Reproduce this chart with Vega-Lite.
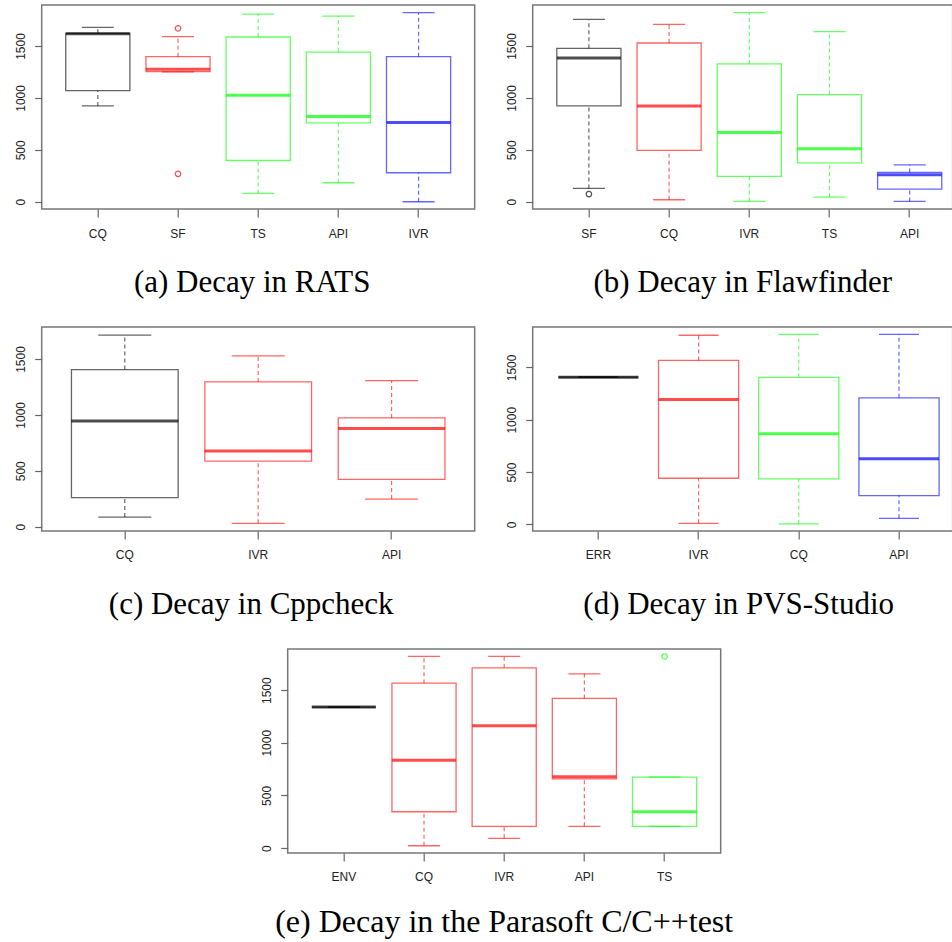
{
  "$schema": "https://vega.github.io/schema/vega-lite/v6.json",
  "padding": {"left": 10.7, "top": 4, "right": 0, "bottom": 0},
  "background": "white",
  "datasets": {
    "a": [
      {"cat": "CQ", "grp": "k", "lo": 923, "q1": 1071, "med": 1618, "q3": 1622, "hi": 1679},
      {"cat": "SF", "grp": "r", "lo": 1250, "q1": 1253, "med": 1276, "q3": 1397, "hi": 1590},
      {"cat": "TS", "grp": "g", "lo": 80, "q1": 397, "med": 1026, "q3": 1587, "hi": 1808},
      {"cat": "API", "grp": "g", "lo": 183, "q1": 760, "med": 821, "q3": 1442, "hi": 1788},
      {"cat": "IVR", "grp": "b", "lo": 0, "q1": 279, "med": 763, "q3": 1397, "hi": 1821}
    ],
    "a_out": [
      {"cat": "SF", "grp": "r", "val": 1670},
      {"cat": "SF", "grp": "r", "val": 269}
    ],
    "b": [
      {"cat": "SF", "grp": "k", "lo": 128, "q1": 923, "med": 1385, "q3": 1478, "hi": 1756},
      {"cat": "CQ", "grp": "r", "lo": 19, "q1": 494, "med": 923, "q3": 1529, "hi": 1708},
      {"cat": "IVR", "grp": "g", "lo": 3, "q1": 244, "med": 667, "q3": 1327, "hi": 1821},
      {"cat": "TS", "grp": "g", "lo": 45, "q1": 375, "med": 510, "q3": 1032, "hi": 1638},
      {"cat": "API", "grp": "b", "lo": 3, "q1": 122, "med": 260, "q3": 282, "hi": 356}
    ],
    "b_out": [
      {"cat": "SF", "grp": "k", "val": 74}
    ],
    "c": [
      {"cat": "CQ", "grp": "k", "lo": 86, "q1": 259, "med": 946, "q3": 1405, "hi": 1714},
      {"cat": "IVR", "grp": "r", "lo": 30, "q1": 586, "med": 676, "q3": 1295, "hi": 1527},
      {"cat": "API", "grp": "r", "lo": 247, "q1": 423, "med": 878, "q3": 973, "hi": 1307}
    ],
    "d": [
      {"cat": "ERR", "grp": "k", "lo": 1407, "q1": 1407, "med": 1407, "q3": 1407, "hi": 1407},
      {"cat": "IVR", "grp": "r", "lo": 10, "q1": 441, "med": 1193, "q3": 1567, "hi": 1807},
      {"cat": "CQ", "grp": "g", "lo": 6, "q1": 435, "med": 867, "q3": 1404, "hi": 1816},
      {"cat": "API", "grp": "b", "lo": 58, "q1": 275, "med": 627, "q3": 1209, "hi": 1816}
    ],
    "e": [
      {"cat": "ENV", "grp": "k", "lo": 1339, "q1": 1339, "med": 1339, "q3": 1339, "hi": 1339},
      {"cat": "CQ", "grp": "r", "lo": 22, "q1": 345, "med": 835, "q3": 1566, "hi": 1820},
      {"cat": "IVR", "grp": "r", "lo": 92, "q1": 206, "med": 1161, "q3": 1712, "hi": 1820},
      {"cat": "API", "grp": "r", "lo": 206, "q1": 658, "med": 677, "q3": 1421, "hi": 1655},
      {"cat": "TS", "grp": "g", "lo": 206, "q1": 206, "med": 345, "q3": 674, "hi": 674}
    ],
    "e_out": [
      {"cat": "TS", "grp": "g", "val": 1820}
    ]
  },
  "vconcat": [
    {
      "hconcat": [
        {
          "width": 433, "height": 204,
          "data": {"name": "a"},
          "title": {"text": "(a) Decay in RATS", "dx": -6},
          "encoding": {"x": {"field": "cat", "type": "nominal", "title": null, "scale": {"domain": ["CQ", "SF", "TS", "API", "IVR"], "paddingInner": 0, "paddingOuter": 0.2}}},
          "layer": [
            {"mark": {"type": "rule", "strokeDash": [4, 3], "strokeWidth": 1.2, "opacity": 0.6}, "encoding": {"y": {"field": "q3", "type": "quantitative", "title": null, "scale": {"domain": [-70, 1895], "nice": false, "zero": false}, "axis": {"values": [0, 500, 1000, 1500], "format": "d"}}, "y2": {"field": "hi"}, "color": {"field": "grp", "type": "nominal", "legend": null, "scale": {"domain": ["k", "r", "g", "b"], "range": ["#000000", "#ff0000", "#00ff00", "#0000ff"]}}}},
            {"mark": {"type": "rule", "strokeDash": [4, 3], "strokeWidth": 1.2, "opacity": 0.6}, "encoding": {"y": {"field": "lo", "type": "quantitative", "title": null, "scale": {"domain": [-70, 1895], "nice": false, "zero": false}}, "y2": {"field": "q1"}, "color": {"field": "grp", "type": "nominal", "legend": null}}},
            {"mark": {"type": "tick", "size": 32, "thickness": 1.3, "opacity": 0.6}, "encoding": {"y": {"field": "hi", "type": "quantitative", "title": null, "scale": {"domain": [-70, 1895], "nice": false, "zero": false}}, "color": {"field": "grp", "type": "nominal", "legend": null}}},
            {"mark": {"type": "tick", "size": 32, "thickness": 1.3, "opacity": 0.6}, "encoding": {"y": {"field": "lo", "type": "quantitative", "title": null, "scale": {"domain": [-70, 1895], "nice": false, "zero": false}}, "color": {"field": "grp", "type": "nominal", "legend": null}}},
            {"mark": {"type": "bar", "filled": false, "strokeWidth": 1.3, "opacity": 0.6, "width": {"band": 0.8}}, "encoding": {"y": {"field": "q1", "type": "quantitative", "title": null, "scale": {"domain": [-70, 1895], "nice": false, "zero": false}}, "y2": {"field": "q3"}, "color": {"field": "grp", "type": "nominal", "legend": null}}},
            {"mark": {"type": "tick", "size": 64, "thickness": 3}, "encoding": {"y": {"field": "med", "type": "quantitative", "title": null, "scale": {"domain": [-70, 1895], "nice": false, "zero": false}}, "color": {"field": "grp", "type": "nominal", "legend": null}}},
            {"data": {"name": "a_out"}, "mark": {"type": "point", "filled": false, "size": 30, "strokeWidth": 1.2, "opacity": 0.7}, "encoding": {"y": {"field": "val", "type": "quantitative", "title": null, "scale": {"domain": [-70, 1895], "nice": false, "zero": false}}, "color": {"field": "grp", "type": "nominal", "legend": null}}}
          ]
        },
        {
          "width": 420, "height": 204,
          "data": {"name": "b"},
          "title": {"text": "(b) Decay in Flawfinder"},
          "encoding": {"x": {"field": "cat", "type": "nominal", "title": null, "scale": {"domain": ["SF", "CQ", "IVR", "TS", "API"], "paddingInner": 0, "paddingOuter": 0.1185, "align": 0.847}}},
          "layer": [
            {"mark": {"type": "rule", "strokeDash": [4, 3], "strokeWidth": 1.2, "opacity": 0.6}, "encoding": {"y": {"field": "q3", "type": "quantitative", "title": null, "scale": {"domain": [-70, 1895], "nice": false, "zero": false}, "axis": {"values": [0, 500, 1000, 1500], "format": "d"}}, "y2": {"field": "hi"}, "color": {"field": "grp", "type": "nominal", "legend": null, "scale": {"domain": ["k", "r", "g", "b"], "range": ["#000000", "#ff0000", "#00ff00", "#0000ff"]}}}},
            {"mark": {"type": "rule", "strokeDash": [4, 3], "strokeWidth": 1.2, "opacity": 0.6}, "encoding": {"y": {"field": "lo", "type": "quantitative", "title": null, "scale": {"domain": [-70, 1895], "nice": false, "zero": false}}, "y2": {"field": "q1"}, "color": {"field": "grp", "type": "nominal", "legend": null}}},
            {"mark": {"type": "tick", "size": 32, "thickness": 1.3, "opacity": 0.6}, "encoding": {"y": {"field": "hi", "type": "quantitative", "title": null, "scale": {"domain": [-70, 1895], "nice": false, "zero": false}}, "color": {"field": "grp", "type": "nominal", "legend": null}}},
            {"mark": {"type": "tick", "size": 32, "thickness": 1.3, "opacity": 0.6}, "encoding": {"y": {"field": "lo", "type": "quantitative", "title": null, "scale": {"domain": [-70, 1895], "nice": false, "zero": false}}, "color": {"field": "grp", "type": "nominal", "legend": null}}},
            {"mark": {"type": "bar", "filled": false, "strokeWidth": 1.3, "opacity": 0.6, "width": {"band": 0.8}}, "encoding": {"y": {"field": "q1", "type": "quantitative", "title": null, "scale": {"domain": [-70, 1895], "nice": false, "zero": false}}, "y2": {"field": "q3"}, "color": {"field": "grp", "type": "nominal", "legend": null}}},
            {"mark": {"type": "tick", "size": 64, "thickness": 3}, "encoding": {"y": {"field": "med", "type": "quantitative", "title": null, "scale": {"domain": [-70, 1895], "nice": false, "zero": false}}, "color": {"field": "grp", "type": "nominal", "legend": null}}},
            {"data": {"name": "b_out"}, "mark": {"type": "point", "filled": false, "size": 30, "strokeWidth": 1.2, "opacity": 0.7}, "encoding": {"y": {"field": "val", "type": "quantitative", "title": null, "scale": {"domain": [-70, 1895], "nice": false, "zero": false}}, "color": {"field": "grp", "type": "nominal", "legend": null}}}
          ]
        }
      ],
      "spacing": 26
    },
    {
      "hconcat": [
        {
          "width": 433, "height": 204,
          "data": {"name": "c"},
          "title": {"text": "(c) Decay in Cppcheck", "dx": -7},
          "encoding": {"x": {"field": "cat", "type": "nominal", "title": null, "scale": {"domain": ["CQ", "IVR", "API"], "paddingInner": 0, "paddingOuter": 0.123}}},
          "layer": [
            {"mark": {"type": "rule", "strokeDash": [4, 3], "strokeWidth": 1.2, "opacity": 0.6}, "encoding": {"y": {"field": "q3", "type": "quantitative", "title": null, "scale": {"domain": [-39, 1786], "nice": false, "zero": false}, "axis": {"values": [0, 500, 1000, 1500], "format": "d"}}, "y2": {"field": "hi"}, "color": {"field": "grp", "type": "nominal", "legend": null, "scale": {"domain": ["k", "r", "g", "b"], "range": ["#000000", "#ff0000", "#00ff00", "#0000ff"]}}}},
            {"mark": {"type": "rule", "strokeDash": [4, 3], "strokeWidth": 1.2, "opacity": 0.6}, "encoding": {"y": {"field": "lo", "type": "quantitative", "title": null, "scale": {"domain": [-39, 1786], "nice": false, "zero": false}}, "y2": {"field": "q1"}, "color": {"field": "grp", "type": "nominal", "legend": null}}},
            {"mark": {"type": "tick", "size": 53, "thickness": 1.3, "opacity": 0.6}, "encoding": {"y": {"field": "hi", "type": "quantitative", "title": null, "scale": {"domain": [-39, 1786], "nice": false, "zero": false}}, "color": {"field": "grp", "type": "nominal", "legend": null}}},
            {"mark": {"type": "tick", "size": 53, "thickness": 1.3, "opacity": 0.6}, "encoding": {"y": {"field": "lo", "type": "quantitative", "title": null, "scale": {"domain": [-39, 1786], "nice": false, "zero": false}}, "color": {"field": "grp", "type": "nominal", "legend": null}}},
            {"mark": {"type": "bar", "filled": false, "strokeWidth": 1.3, "opacity": 0.6, "width": {"band": 0.8}}, "encoding": {"y": {"field": "q1", "type": "quantitative", "title": null, "scale": {"domain": [-39, 1786], "nice": false, "zero": false}}, "y2": {"field": "q3"}, "color": {"field": "grp", "type": "nominal", "legend": null}}},
            {"mark": {"type": "tick", "size": 107, "thickness": 3}, "encoding": {"y": {"field": "med", "type": "quantitative", "title": null, "scale": {"domain": [-39, 1786], "nice": false, "zero": false}}, "color": {"field": "grp", "type": "nominal", "legend": null}}}
          ]
        },
        {
          "width": 420, "height": 204,
          "data": {"name": "d"},
          "title": {"text": "(d) Decay in PVS-Studio", "dx": -4},
          "encoding": {"x": {"field": "cat", "type": "nominal", "title": null, "scale": {"domain": ["ERR", "IVR", "CQ", "API"], "paddingInner": 0, "paddingOuter": 0.0958, "align": 0.8125}}},
          "layer": [
            {"mark": {"type": "rule", "strokeDash": [4, 3], "strokeWidth": 1.2, "opacity": 0.6}, "encoding": {"y": {"field": "q3", "type": "quantitative", "title": null, "scale": {"domain": [-63, 1886], "nice": false, "zero": false}, "axis": {"values": [0, 500, 1000, 1500], "format": "d"}}, "y2": {"field": "hi"}, "color": {"field": "grp", "type": "nominal", "legend": null, "scale": {"domain": ["k", "r", "g", "b"], "range": ["#000000", "#ff0000", "#00ff00", "#0000ff"]}}}},
            {"mark": {"type": "rule", "strokeDash": [4, 3], "strokeWidth": 1.2, "opacity": 0.6}, "encoding": {"y": {"field": "lo", "type": "quantitative", "title": null, "scale": {"domain": [-63, 1886], "nice": false, "zero": false}}, "y2": {"field": "q1"}, "color": {"field": "grp", "type": "nominal", "legend": null}}},
            {"mark": {"type": "tick", "size": 40, "thickness": 1.3, "opacity": 0.6}, "encoding": {"y": {"field": "hi", "type": "quantitative", "title": null, "scale": {"domain": [-63, 1886], "nice": false, "zero": false}}, "color": {"field": "grp", "type": "nominal", "legend": null}}},
            {"mark": {"type": "tick", "size": 40, "thickness": 1.3, "opacity": 0.6}, "encoding": {"y": {"field": "lo", "type": "quantitative", "title": null, "scale": {"domain": [-63, 1886], "nice": false, "zero": false}}, "color": {"field": "grp", "type": "nominal", "legend": null}}},
            {"mark": {"type": "bar", "filled": false, "strokeWidth": 1.3, "opacity": 0.6, "width": {"band": 0.8}}, "encoding": {"y": {"field": "q1", "type": "quantitative", "title": null, "scale": {"domain": [-63, 1886], "nice": false, "zero": false}}, "y2": {"field": "q3"}, "color": {"field": "grp", "type": "nominal", "legend": null}}},
            {"mark": {"type": "tick", "size": 80, "thickness": 3}, "encoding": {"y": {"field": "med", "type": "quantitative", "title": null, "scale": {"domain": [-63, 1886], "nice": false, "zero": false}}, "color": {"field": "grp", "type": "nominal", "legend": null}}}
          ]
        }
      ],
      "spacing": 26
    },
    {
      "hconcat": [
        {
          "width": 195, "height": 204,
          "data": {"values": []},
          "mark": {"type": "point", "opacity": 0},
          "view": {"stroke": null, "fill": "white"}
        },
        {
          "width": 433, "height": 204,
          "data": {"name": "e"},
          "title": {"text": "(e) Decay in the Parasoft C/C++test", "fontSize": 32, "offset": 24},
          "encoding": {"x": {"field": "cat", "type": "nominal", "title": null, "scale": {"domain": ["ENV", "CQ", "IVR", "API", "TS"], "paddingInner": 0, "paddingOuter": 0.2}}},
          "layer": [
            {"mark": {"type": "rule", "strokeDash": [4, 3], "strokeWidth": 1.2, "opacity": 0.6}, "encoding": {"y": {"field": "q3", "type": "quantitative", "title": null, "scale": {"domain": [-47, 1891], "nice": false, "zero": false}, "axis": {"values": [0, 500, 1000, 1500], "format": "d"}}, "y2": {"field": "hi"}, "color": {"field": "grp", "type": "nominal", "legend": null, "scale": {"domain": ["k", "r", "g", "b"], "range": ["#000000", "#ff0000", "#00ff00", "#0000ff"]}}}},
            {"mark": {"type": "rule", "strokeDash": [4, 3], "strokeWidth": 1.2, "opacity": 0.6}, "encoding": {"y": {"field": "lo", "type": "quantitative", "title": null, "scale": {"domain": [-47, 1891], "nice": false, "zero": false}}, "y2": {"field": "q1"}, "color": {"field": "grp", "type": "nominal", "legend": null}}},
            {"mark": {"type": "tick", "size": 32, "thickness": 1.3, "opacity": 0.6}, "encoding": {"y": {"field": "hi", "type": "quantitative", "title": null, "scale": {"domain": [-47, 1891], "nice": false, "zero": false}}, "color": {"field": "grp", "type": "nominal", "legend": null}}},
            {"mark": {"type": "tick", "size": 32, "thickness": 1.3, "opacity": 0.6}, "encoding": {"y": {"field": "lo", "type": "quantitative", "title": null, "scale": {"domain": [-47, 1891], "nice": false, "zero": false}}, "color": {"field": "grp", "type": "nominal", "legend": null}}},
            {"mark": {"type": "bar", "filled": false, "strokeWidth": 1.3, "opacity": 0.6, "width": {"band": 0.8}}, "encoding": {"y": {"field": "q1", "type": "quantitative", "title": null, "scale": {"domain": [-47, 1891], "nice": false, "zero": false}}, "y2": {"field": "q3"}, "color": {"field": "grp", "type": "nominal", "legend": null}}},
            {"mark": {"type": "tick", "size": 64, "thickness": 3}, "encoding": {"y": {"field": "med", "type": "quantitative", "title": null, "scale": {"domain": [-47, 1891], "nice": false, "zero": false}}, "color": {"field": "grp", "type": "nominal", "legend": null}}},
            {"data": {"name": "e_out"}, "mark": {"type": "point", "filled": false, "size": 30, "strokeWidth": 1.2, "opacity": 0.7}, "encoding": {"y": {"field": "val", "type": "quantitative", "title": null, "scale": {"domain": [-47, 1891], "nice": false, "zero": false}}, "color": {"field": "grp", "type": "nominal", "legend": null}}}
          ]
        }
      ],
      "spacing": 20
    }
  ],
  "spacing": 27,
  "config": {
    "view": {"stroke": "#777777", "strokeWidth": 1.5},
    "axis": {"domain": false, "grid": false, "labelFont": "Liberation Sans", "labelFontSize": 12, "labelColor": "#222222", "tickColor": "#666666", "tickWidth": 1.2},
    "axisY": {"labelAngle": -90, "labelAlign": "center", "labelBaseline": "bottom", "labelPadding": 7, "tickSize": 7, "minExtent": 30},
    "axisX": {"labelAngle": 0, "labelPadding": 11, "tickSize": 8, "bandPosition": 0.5, "labelBaseline": "top"},
    "title": {"orient": "bottom", "anchor": "middle", "frame": "group", "font": "Liberation Serif", "fontSize": 31, "fontWeight": "normal", "color": "#000000", "offset": 29}
  }
}
